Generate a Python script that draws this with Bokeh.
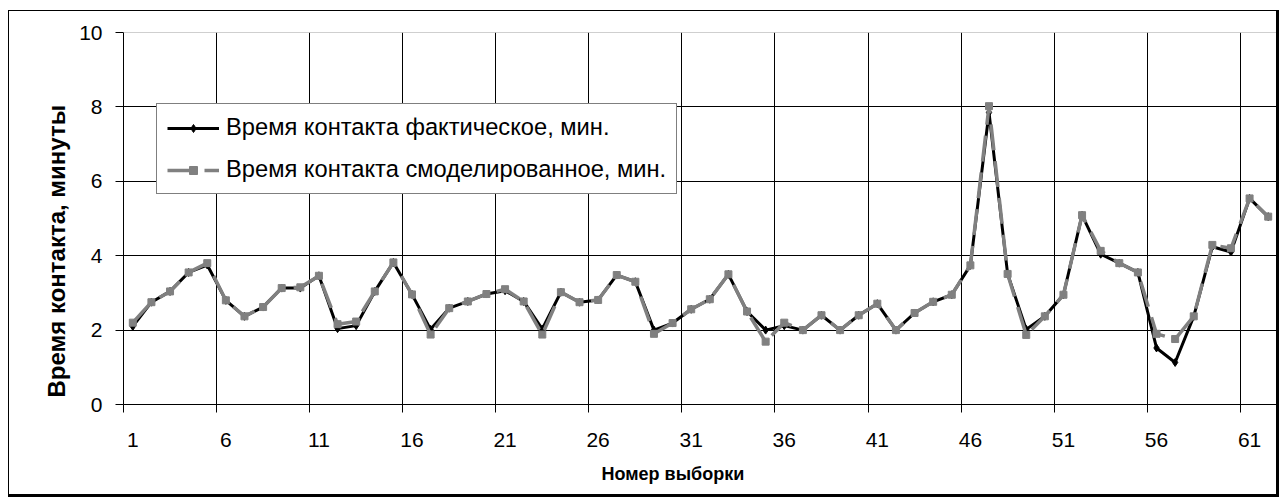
from bokeh.plotting import figure
from bokeh.models import FixedTicker, Legend, LegendItem, Title, Span, ColumnDataSource
from bokeh.embed import file_html
from bokeh.resources import INLINE

samples = list(range(1, 63))
actual = [2.1, 2.75, 3.04, 3.55, 3.75, 2.8, 2.37, 2.62, 3.13, 3.13,
          3.46, 2.04, 2.12, 3.04, 3.82, 2.96, 2.02, 2.59, 2.77, 2.97,
          3.06, 2.77, 2.03, 3.02, 2.75, 2.81, 3.48, 3.3, 2.0, 2.19,
          2.56, 2.83, 3.5, 2.5, 2.0, 2.12, 2.0, 2.4, 2.0, 2.4,
          2.71, 2.0, 2.46, 2.76, 2.95, 3.74, 7.85, 3.51, 2.02, 2.37,
          2.95, 5.09, 4.04, 3.8, 3.55, 1.52, 1.13, 2.37, 4.24, 4.1,
          5.54, 5.05]
modelled = [2.2, 2.75, 3.04, 3.55, 3.8, 2.8, 2.37, 2.62, 3.13, 3.15,
            3.46, 2.16, 2.23, 3.04, 3.82, 2.96, 1.88, 2.59, 2.77, 2.97,
            3.1, 2.77, 1.88, 3.02, 2.75, 2.81, 3.48, 3.3, 1.9, 2.19,
            2.56, 2.83, 3.5, 2.5, 1.69, 2.2, 2.0, 2.4, 2.0, 2.4,
            2.71, 2.0, 2.46, 2.76, 2.95, 3.74, 8.02, 3.51, 1.87, 2.37,
            2.95, 5.09, 4.13, 3.8, 3.55, 1.9, 1.76, 2.37, 4.29, 4.2,
            5.54, 5.05]
x_tick_labels = [1, 6, 11, 16, 21, 26, 31, 36, 41, 46, 51, 56, 61]
y_ticks = [0, 2, 4, 6, 8, 10]
series_names = ["Время контакта фактическое, мин.", "Время контакта смоделированное, мин."]
x_title = "Номер выборки"
y_title = "Время контакта, минуты"

FONT = "Liberation Sans"
src = ColumnDataSource(dict(x=samples, a=actual, m=modelled))

p = figure(width=1271, height=487, output_backend="svg", toolbar_location=None,
           x_range=(0.5, 62.5), y_range=(0, 10),
           min_border_left=114, min_border_right=3, min_border_top=21, min_border_bottom=94)
p.styles = {"border-style": "solid", "border-color": "black",
            "border-width": "1px 3px 3px 1px", "box-sizing": "border-box",
            "margin-left": "8px", "margin-top": "10px"}
p.outline_line_color = None
p.background_fill_color = "white"
p.border_fill_color = "white"

# x axis
bounds = [c - 0.5 for c in x_tick_labels]
p.xaxis.ticker = FixedTicker(ticks=x_tick_labels, minor_ticks=bounds)
p.xaxis.major_tick_out = 0
p.xaxis.major_tick_in = 0
p.xaxis.minor_tick_out = 8
p.xaxis.minor_tick_in = 0
p.xaxis.minor_tick_line_color = "black"
p.xaxis.axis_line_color = "black"
p.xaxis.major_label_text_font = FONT
p.xaxis.major_label_text_font_size = "21px"
p.xaxis.major_label_text_color = "black"
p.xaxis.major_label_standoff = 20

# y axis
p.yaxis.ticker = FixedTicker(ticks=y_ticks)
p.yaxis.major_tick_out = 8
p.yaxis.major_tick_in = 0
p.yaxis.minor_tick_line_color = None
p.yaxis.axis_line_color = "black"
p.yaxis.major_label_text_font = FONT
p.yaxis.major_label_text_font_size = "21px"
p.yaxis.major_label_text_color = "black"
p.yaxis.major_label_standoff = 13

# grids
p.xgrid.ticker = FixedTicker(ticks=bounds[1:])
p.xgrid.grid_line_color = "black"
p.xgrid.grid_line_width = 1
p.ygrid.ticker = FixedTicker(ticks=[2, 4, 6, 8])
p.ygrid.grid_line_color = "black"
p.ygrid.grid_line_width = 1
p.add_layout(Span(location=10, dimension="width", line_color="#a0a0a0", line_width=1))

# series
l1 = p.line("x", "a", source=src, line_color="black", line_width=3)
s1 = p.scatter("x", "a", source=src, marker="diamond", size=8, color="black")
l2 = p.line("x", "m", source=src, line_color="#808080", line_width=3.5, line_dash="26 11")
s2 = p.scatter("x", "m", source=src, marker="square", size=7, color="#808080")

legend = Legend(items=[LegendItem(label=series_names[0], renderers=[l1, s1]),
                       LegendItem(label=series_names[1], renderers=[l2, s2])],
                location=(33, 210), orientation="vertical",
                label_text_font=FONT, label_text_font_size="23.7px", label_text_color="black",
                border_line_color="black", border_line_width=1, background_fill_color="white",
                background_fill_alpha=1.0,
                padding=10, spacing=15, margin=0, glyph_width=52, glyph_height=20,
                label_height=26, label_standoff=7)
p.add_layout(legend, "center")

# titles
p.add_layout(Title(text=x_title, text_font=FONT, text_font_size="18px", text_font_style="bold",
                   text_color="black", align="left", offset=478, standoff=25), "below")
p.add_layout(Title(text=y_title, text_font=FONT, text_font_size="24px", text_font_style="bold",
                   text_color="black", align="left", offset=7, standoff=13), "left")

open("out.html", "w").write(file_html(p, INLINE))
